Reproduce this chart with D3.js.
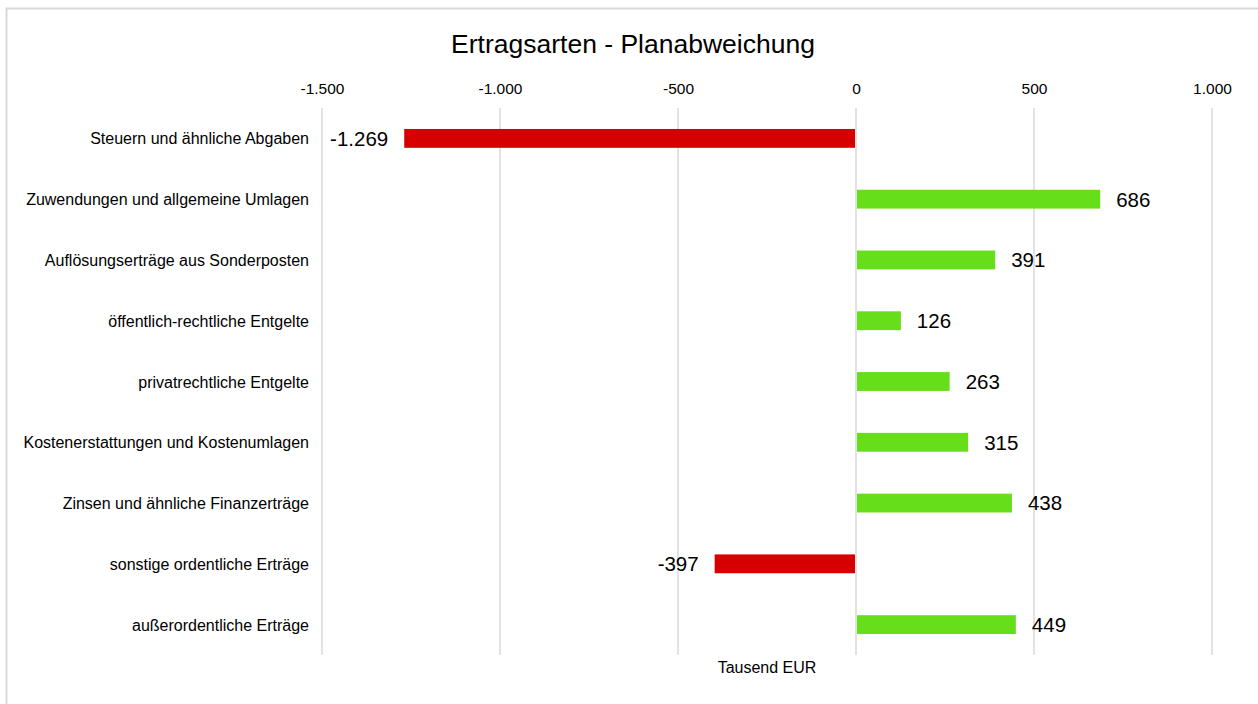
<!DOCTYPE html>
<html><head><meta charset="utf-8">
<script src="https://cdn.jsdelivr.net/npm/d3@7"></script>
<style>
html,body{margin:0;padding:0;background:#fff;}
svg{display:block;font-family:"Liberation Sans",Arial,sans-serif;}
</style></head>
<body>
<svg id="chart" width="1258" height="704"></svg>
<script>
const categories = ["Steuern und ähnliche Abgaben","Zuwendungen und allgemeine Umlagen","Auflösungserträge aus Sonderposten","öffentlich-rechtliche Entgelte","privatrechtliche Entgelte","Kostenerstattungen und Kostenumlagen","Zinsen und ähnliche Finanzerträge","sonstige ordentliche Erträge","außerordentliche Erträge"];
const values = [-1269, 686, 391, 126, 263, 315, 438, -397, 449];
const tickValues = [-1500, -1000, -500, 0, 500, 1000];
const title = "Ertragsarten - Planabweichung";
const axisTitle = "Tausend EUR";

const svg = d3.select("#chart");
svg.append("rect").attr("x",6.5).attr("y",8.5).attr("width",1270).attr("height",720)
  .attr("fill","#fff").attr("stroke","#d9d9d9").attr("stroke-width",2);

const x = d3.scaleLinear().domain([-1500,1000]).range([322,1212]);
const y = d3.scaleBand().domain(categories).range([108,655]).paddingInner(0.69).paddingOuter(0.345);

const fmt = v => d3.format(",")(Math.abs(v)).replace(/,/g,".").replace(/^/, v<0 ? "-" : "");

// gridlines
svg.append("g").selectAll("line").data(tickValues).join("line")
  .attr("x1",d=>x(d)).attr("x2",d=>x(d)).attr("y1",108).attr("y2",655)
  .attr("stroke","#d9d9d9").attr("stroke-width",1.5);

// top axis
const axis = d3.axisTop(x).tickValues(tickValues).tickSize(0).tickPadding(0).tickFormat(fmt);
const ag = svg.append("g").attr("transform","translate(0,94)").call(axis);
ag.select(".domain").remove();
ag.selectAll("text").attr("font-size",15.5).attr("fill","#000").attr("font-family","Liberation Sans, Arial, sans-serif");

// bars
svg.append("g").selectAll("rect").data(values).join("rect")
  .attr("x",(d)=> d<0 ? x(d) : x(0)+1)
  .attr("width",d=> Math.abs(x(d)-x(0)) - 1)
  .attr("y",(d,i)=>y(categories[i]))
  .attr("height",y.bandwidth())
  .attr("fill",d=> d<0 ? "#d60000" : "#66de1a");

// value labels
svg.append("g").selectAll("text").data(values).join("text")
  .attr("x",d=> d<0 ? x(d)-16 : x(d)+16)
  .attr("y",(d,i)=>y(categories[i])+y.bandwidth()/2)
  .attr("dy","0.36em")
  .attr("text-anchor",d=> d<0 ? "end" : "start")
  .attr("font-size",20.5).attr("fill","#000")
  .text(fmt);

// category labels
svg.append("g").selectAll("text").data(categories).join("text")
  .attr("x",309)
  .attr("y",d=>y(d)+y.bandwidth()/2)
  .attr("dy","0.38em")
  .attr("text-anchor","end")
  .attr("font-size",16).attr("fill","#000")
  .text(d=>d);

// title
svg.append("text").attr("x",633).attr("y",53).attr("text-anchor","middle")
  .attr("font-size",26.5).attr("fill","#000").text(title);

// axis title
svg.append("text").attr("x",767).attr("y",673).attr("text-anchor","middle")
  .attr("font-size",16).attr("fill","#000").text(axisTitle);
</script>
</body></html>
